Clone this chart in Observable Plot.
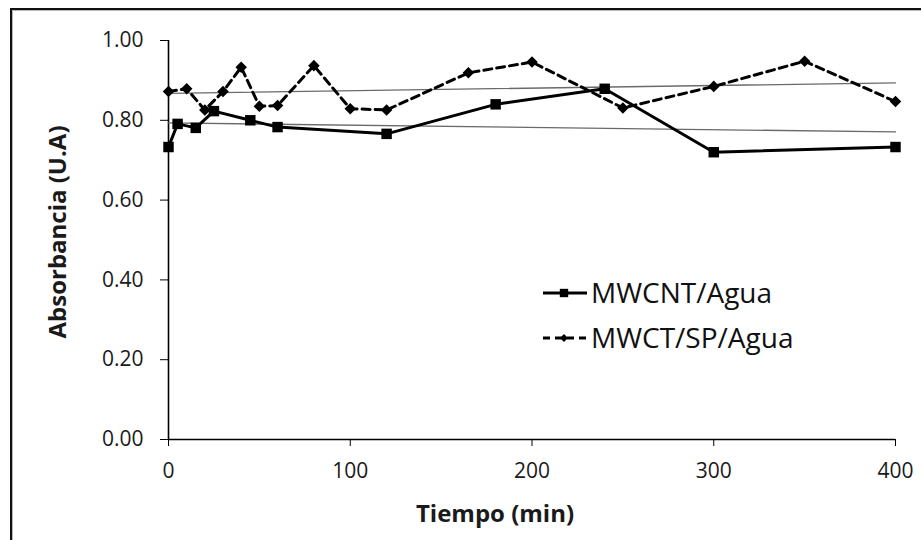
<!DOCTYPE html>
<html>
<head>
<meta charset="utf-8">
<script src="https://cdn.jsdelivr.net/npm/d3@7"></script>
<script src="https://cdn.jsdelivr.net/npm/@observablehq/plot@0.6"></script>
<style>
  body { margin: 0; background: #fff; }
  #wrap { position: relative; width: 921px; height: 540px; overflow: hidden; background: #fff; font-family: "Open Sans", sans-serif; }
  #frame { position: absolute; left: 10px; top: 8px; width: 940px; height: 580px; border-top: 2px solid #111; border-left: 2px solid #111; box-shadow: inset 1px 1px 0 #b8b8b8; pointer-events: none; }
  #chart { position: absolute; left: 0; top: 0; }
  #overlay { position: absolute; left: 0; top: 0; pointer-events: none; }
</style>
</head>
<body>
<div id="wrap">
  <div id="chart"></div>
  <svg id="overlay" width="921" height="540"></svg>
  <div id="frame"></div>
</div>
<script>
// ---- data ----
const seriesNames = ["MWCNT/Agua", "MWCT/SP/Agua"];

const timeA = [0, 5, 15, 25, 45, 60, 120, 180, 240, 300, 400];
const absA  = [0.733, 0.791, 0.781, 0.823, 0.800, 0.783, 0.766, 0.840, 0.879, 0.720, 0.733];

const timeB = [0, 10, 20, 30, 40, 50, 60, 80, 100, 120, 165, 200, 250, 300, 350, 400];
const absB  = [0.872, 0.879, 0.826, 0.872, 0.933, 0.835, 0.837, 0.937, 0.829, 0.826, 0.919, 0.946, 0.831, 0.885, 0.948, 0.847];

const xTicks = [0, 100, 200, 300, 400];
const yTicks = [0, 0.2, 0.4, 0.6, 0.8, 1.0];

const xTitle = "Tiempo (min)";
const yTitle = "Absorbancia (U.A)";

// ---- build tables ----
const dataA = timeA.map((t, i) => ({t, a: absA[i], s: seriesNames[0]}));
const dataB = timeB.map((t, i) => ({t, a: absB[i], s: seriesNames[1]}));

const W = 921, H = 540;
const mL = 168, mR = 26, mT = 40, mB = 101;

const chart = Plot.plot({
  width: W,
  height: H,
  marginLeft: mL,
  marginRight: mR,
  marginTop: mT,
  marginBottom: mB,
  style: { fontFamily: "Open Sans, sans-serif", fontSize: "21px", color: "#1a1a1a", background: "transparent" },
  x: { domain: [0, 400], ticks: xTicks },
  y: { domain: [0, 1], ticks: yTicks },
  marks: [
    Plot.axisX({ ticks: xTicks, tickSize: 7, tickPadding: 17, tickFormat: d3.format("d"), label: null, stroke: "#000" }),
    Plot.axisY({ ticks: yTicks, tickSize: 8, tickPadding: 17, tickFormat: d3.format(".2f"), label: null, stroke: "#000" }),
    Plot.ruleX([0], { stroke: "#000", strokeWidth: 1.6 }),
    Plot.ruleY([0], { stroke: "#000", strokeWidth: 1.6 }),
    // linear trend lines
    Plot.linearRegressionY(dataA, { x: "t", y: "a", stroke: "#6a6a6a", strokeWidth: 1.3, ci: 0 }),
    Plot.linearRegressionY(dataB, { x: "t", y: "a", stroke: "#6a6a6a", strokeWidth: 1.3, ci: 0 }),
    // series lines
    Plot.line(dataB, { x: "t", y: "a", stroke: "#000", strokeWidth: 3, strokeDasharray: "8,5" }),
    Plot.line(dataA, { x: "t", y: "a", stroke: "#000", strokeWidth: 3 }),
    Plot.dot(dataB, { x: "t", y: "a", symbol: "diamond2", r: 5.2, fill: "#000", stroke: "none" }),
    Plot.dot(dataA, { x: "t", y: "a", symbol: "square", r: 5.9, fill: "#000", stroke: "none" })
  ]
});
document.getElementById("chart").appendChild(chart);

// ---- titles and legend (overlay) ----
const ov = d3.select("#overlay");
ov.append("text")
  .attr("x", 495).attr("y", 522)
  .attr("text-anchor", "middle")
  .attr("font-family", "Open Sans, sans-serif")
  .attr("font-weight", 700).attr("font-size", 24).attr("fill", "#1a1a1a")
  .text(xTitle);
ov.append("text")
  .attr("transform", "translate(66,232) rotate(-90)")
  .attr("text-anchor", "middle")
  .attr("font-family", "Open Sans, sans-serif")
  .attr("font-weight", 700).attr("font-size", 24).attr("fill", "#1a1a1a")
  .text(yTitle);

const legendRows = [
  { name: seriesNames[0], cy: 293, dash: null, sym: d3.symbolSquare, size: 70 },
  { name: seriesNames[1], cy: 338, dash: "7,5", sym: d3.symbolDiamond2, size: 40 }
];
legendRows.forEach(r => {
  const g = ov.append("g");
  g.append("line").attr("x1", 543).attr("x2", 587).attr("y1", r.cy).attr("y2", r.cy)
    .attr("stroke", "#000").attr("stroke-width", 3)
    .attr("stroke-dasharray", r.dash);
  g.append("path").attr("d", d3.symbol(r.sym, r.size)())
    .attr("transform", `translate(564,${r.cy})`).attr("fill", "#000");
  g.append("text").attr("x", 591).attr("y", r.cy + 10)
    .attr("font-family", "Open Sans, sans-serif").attr("font-size", 28).attr("fill", "#111")
    .text(r.name);
});
</script>
</body>
</html>
